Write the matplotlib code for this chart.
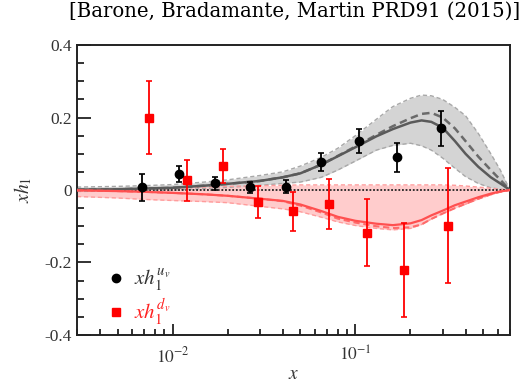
import matplotlib
matplotlib.use("Agg")
import matplotlib.pyplot as plt
from matplotlib.lines import Line2D
from matplotlib.ticker import FixedLocator, MultipleLocator, LogLocator, NullFormatter

# ---- data ----
u_x = [0.0068, 0.0109, 0.017, 0.0266, 0.0417, 0.0652, 0.105, 0.168, 0.294]
u_y = [0.007, 0.044, 0.018, 0.008, 0.009, 0.078, 0.135, 0.09, 0.17]
u_err = [0.038, 0.021, 0.017, 0.015, 0.018, 0.025, 0.032, 0.04, 0.049]

d_x = [0.0074, 0.012, 0.0188, 0.0294, 0.0457, 0.0715, 0.115, 0.185, 0.322]
d_y = [0.2, 0.027, 0.066, -0.032, -0.059, -0.039, -0.118, -0.22, -0.098]
d_err = [0.1, 0.056, 0.048, 0.044, 0.053, 0.07, 0.093, 0.13, 0.16]

cx = [0.003, 0.005, 0.007, 0.01, 0.015, 0.02, 0.03, 0.04, 0.05, 0.065, 0.08, 0.1,
      0.13, 0.16, 0.2, 0.23, 0.26, 0.3, 0.35, 0.4, 0.47, 0.55, 0.62, 0.7]

u_fit = [0.001, 0.002, 0.004, 0.006, 0.012, 0.017, 0.025, 0.035, 0.046, 0.07, 0.093, 0.118,
         0.148, 0.168, 0.186, 0.192, 0.188, 0.172, 0.135, 0.1, 0.064, 0.035, 0.018, 0.0]
u_alt = [0.001, 0.002, 0.004, 0.006, 0.012, 0.017, 0.025, 0.035, 0.046, 0.07, 0.094, 0.12,
         0.152, 0.176, 0.198, 0.21, 0.213, 0.2, 0.17, 0.135, 0.092, 0.055, 0.028, 0.0]
u_hi = [0.008, 0.01, 0.012, 0.015, 0.022, 0.028, 0.04, 0.05, 0.066, 0.09, 0.115, 0.15,
        0.195, 0.23, 0.253, 0.262, 0.26, 0.25, 0.228, 0.205, 0.156, 0.1, 0.055, 0.0]
u_lo = [-0.004, -0.003, -0.002, 0.0, 0.004, 0.007, 0.013, 0.018, 0.022, 0.035, 0.055, 0.08,
        0.11, 0.123, 0.129, 0.122, 0.11, 0.088, 0.06, 0.037, 0.018, 0.006, 0.002, 0.0]

d_fit = [-0.001, -0.003, -0.005, -0.008, -0.012, -0.016, -0.024, -0.03, -0.04, -0.058, -0.074, -0.085,
         -0.093, -0.097, -0.092, -0.083, -0.07, -0.057, -0.042, -0.032, -0.02, -0.01, -0.004, 0.0]
d_alt = [-0.001, -0.003, -0.005, -0.008, -0.012, -0.016, -0.024, -0.031, -0.043, -0.062, -0.079, -0.09,
         -0.1, -0.105, -0.103, -0.095, -0.08, -0.065, -0.05, -0.038, -0.024, -0.012, -0.005, 0.0]
d_hi = [0.0, 0.002, 0.004, 0.006, 0.008, 0.01, 0.012, 0.013, 0.014, 0.014, 0.014, 0.014,
        0.014, 0.014, 0.014, 0.014, 0.014, 0.014, 0.013, 0.011, 0.008, 0.005, 0.002, 0.0]
d_lo = [-0.018, -0.022, -0.026, -0.029, -0.032, -0.035, -0.045, -0.052, -0.06, -0.075, -0.088, -0.098,
        -0.106, -0.11, -0.106, -0.095, -0.08, -0.065, -0.05, -0.039, -0.025, -0.013, -0.005, 0.0]

title = "[Barone, Bradamante, Martin PRD91 (2015)]"
labels = [r'$xh_1^{u_v}$', r'$xh_1^{d_v}$']

plt.rcParams['mathtext.fontset'] = 'stix'
plt.rcParams['font.family'] = ['Liberation Serif', 'DejaVu Serif']

fig = plt.figure(figsize=(5.29, 3.85), dpi=100)
ax = fig.add_axes([0.1456, 0.13, 0.8184, 0.753])

# bands
ax.fill_between(cx, u_lo, u_hi, color='#d4d4d4', lw=0, zorder=1)
ax.plot(cx, u_hi, color='#a8a8a8', lw=1.0, ls=(0, (3, 2)), zorder=2)
ax.plot(cx, u_lo, color='#a8a8a8', lw=1.0, ls=(0, (3, 2)), zorder=2)
ax.fill_between(cx, d_lo, d_hi, color='#ffcccc', lw=0, zorder=1)
ax.plot(cx, d_hi, color='#ff9c9c', lw=1.0, ls=(0, (3, 2)), zorder=2)
ax.plot(cx, d_lo, color='#ff9c9c', lw=1.0, ls=(0, (3, 2)), zorder=2)

# zero dotted line
ax.axhline(0, color='#222222', lw=1.3, ls=(0, (1, 1)), zorder=3)

# fits
ax.plot(cx, u_alt, color='#6a6a6a', lw=1.8, ls=(0, (3, 1.8)), zorder=4)
ax.plot(cx, u_fit, color='#5a5a5a', lw=1.8, zorder=4)
ax.plot(cx, d_alt, color='#ff6a6a', lw=1.5, ls=(0, (3, 1.8)), zorder=4)
ax.plot(cx, d_fit, color='#ff5050', lw=1.6, zorder=4)

# data
ax.errorbar(u_x, u_y, yerr=u_err, fmt='o', color='black', ms=6, elinewidth=1.3,
            capsize=2, capthick=1.2, zorder=6)
ax.errorbar(d_x, d_y, yerr=d_err, fmt='s', color='#ff0000', ms=6, elinewidth=1.3,
            capsize=2, capthick=1.2, zorder=5)

ax.set_xscale('log')
ax.set_xlim(0.003, 0.7)
ax.set_ylim(-0.4, 0.4)
ax.set_yticks([-0.4, -0.2, 0, 0.2, 0.4])
ax.set_yticklabels(['-0.4', '-0.2', '0', '0.2', '0.4'])
ax.yaxis.set_minor_locator(MultipleLocator(0.05))
ax.xaxis.set_major_locator(FixedLocator([0.01, 0.1]))
ax.set_xticklabels([r'$10^{-2}$', r'$10^{-1}$'])
ax.xaxis.set_minor_locator(LogLocator(base=10, subs=range(2, 10), numticks=20))
ax.xaxis.set_minor_formatter(NullFormatter())

ax.tick_params(axis='both', which='both', direction='in', top=False, right=False,
               colors='#222222', labelcolor='#333333', labelsize=12.5, width=1.3)
ax.tick_params(axis='y', which='major', length=10)
ax.tick_params(axis='y', which='minor', length=5)
ax.tick_params(axis='x', which='major', length=8, pad=8)
ax.tick_params(axis='x', which='minor', length=4)
for s in ax.spines.values():
    s.set_linewidth(1.4)
    s.set_color('#222222')

ax.set_xlabel(r'$x$', fontsize=14, color='#333333', labelpad=0)
ax.set_ylabel(r'$xh_1$', fontsize=14, color='#333333', labelpad=8)

handles = [Line2D([], [], ls='none', marker='o', color='black', ms=6),
           Line2D([], [], ls='none', marker='s', color='#ff0000', ms=6)]
leg = ax.legend(handles, labels, loc='upper left', bbox_to_anchor=(0.065, 0.235),
                frameon=False, fontsize=15, handletextpad=0.4, labelspacing=0.15,
                handlelength=1.0, borderaxespad=0, borderpad=0)
for t, c in zip(leg.get_texts(), ['#333333', '#ff2020']):
    t.set_color(c)

fig.text(0.983, 0.995, title, ha='right', va='top', fontsize=14.2,
         family=['DejaVu Serif'], color='black')

fig.savefig('out.png', dpi=100)
